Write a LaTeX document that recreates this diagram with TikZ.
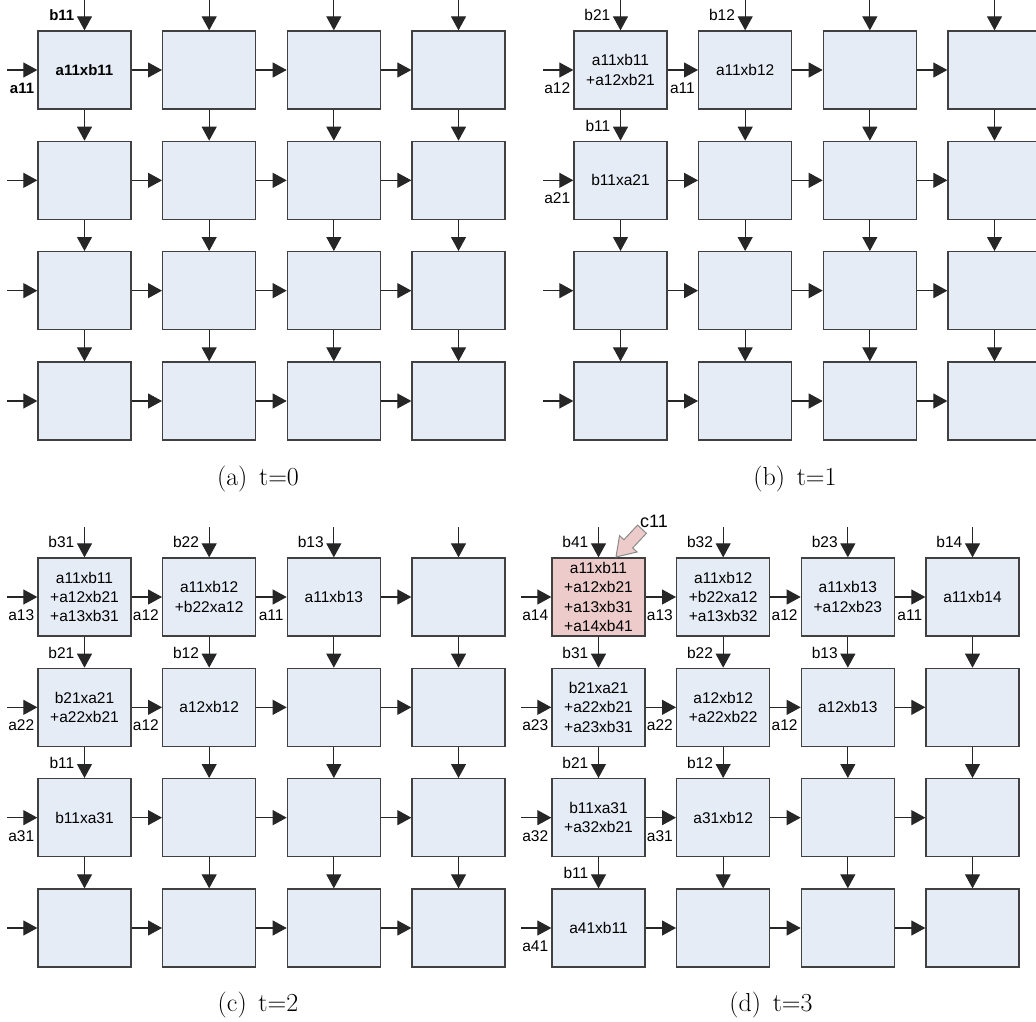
\documentclass[tikz,border=0pt]{standalone}
\usepackage{fontspec}
\newfontfamily\arialf{Liberation Sans}
\usetikzlibrary{arrows.meta}

\definecolor{cellfill}{HTML}{E5ECF6}
\definecolor{pinkfill}{HTML}{EDCBCB}
\definecolor{edgecol}{HTML}{404040}
\definecolor{callout}{HTML}{8A8A8A}

\newcommand\celltext[2]{\expandafter\def\csname txt-#1\endcsname{#2}}
\newcommand\toplabel[3][lab]{\node[#1,anchor=east] (#2-bl) at ([xshift=-10pt,yshift=15pt]#2.north) {#3};}
\newcommand\leftlabel[3][lab]{\node[#1,anchor=east] (#2-al) at ([xshift=-3pt,yshift=-18pt]#2.west) {#3};}

% cell contents
\celltext{a-1-1}{a11xb11}
\celltext{b-1-1}{a11xb11\\+a12xb21}
\celltext{b-1-2}{a11xb12}
\celltext{b-2-1}{b11xa21}
\celltext{c-1-1}{a11xb11\\+a12xb21\\+a13xb31}
\celltext{c-1-2}{a11xb12\\+b22xa12}
\celltext{c-1-3}{a11xb13}
\celltext{c-2-1}{b21xa21\\+a22xb21}
\celltext{c-2-2}{a12xb12}
\celltext{c-3-1}{b11xa31}
\celltext{d-1-1}{a11xb11\\+a12xb21\\+a13xb31\\+a14xb41}
\celltext{d-1-2}{a11xb12\\+b22xa12\\+a13xb32}
\celltext{d-1-3}{a11xb13\\+a12xb23}
\celltext{d-1-4}{a11xb14}
\celltext{d-2-1}{b21xa21\\+a22xb21\\+a23xb31}
\celltext{d-2-2}{a12xb12\\+a22xb22}
\celltext{d-2-3}{a12xb13}
\celltext{d-3-1}{b11xa31\\+a32xb21}
\celltext{d-3-2}{a31xb12}
\celltext{d-4-1}{a41xb11}

\tikzset{
  cell/.style={draw=edgecol, line width=1.3pt, fill=cellfill,
    minimum width=93pt, minimum height=78pt, inner sep=0pt, align=center,
    font=\arialf\fontsize{15.5}{19.3}\selectfont},
  flow/.style={draw=black!85, line width=1.1pt, -{Triangle[length=14pt,width=15pt]}},
  lab/.style={inner sep=0pt, font=\arialf\fontsize{15.5}{17}\selectfont},
  boldlab/.style={inner sep=0pt, font=\arialf\bfseries\fontsize{15}{17}\selectfont},
  captionlab/.style={inner sep=0pt, anchor=base, font=\fontsize{26}{30}\selectfont},
  cs-d-1-1/.style={fill=pinkfill},
  cs-a-1-1/.style={font=\arialf\bfseries\fontsize{15}{19.3}\selectfont},
}

\begin{document}
\begin{tikzpicture}[x=1pt,y=-1pt]
\path[use as bounding box] (0,0) rectangle (1036,1021);
\clip (0,0) rectangle (1036,1021);

% boxes
\foreach \p/\ox/\oy in {a/0/0, b/536/0, c/0/527, d/514/527}{
  \foreach \r in {1,...,4}{
    \foreach \c in {1,...,4}{
      \node[cell, cs-\p-\r-\c/.try] (\p-\r-\c) at ({\ox+84.5+(\c-1)*124.67},{\oy+70+(\r-1)*110.33}) {\csname txt-\p-\r-\c\endcsname};
    }
  }
}

% connectors
\foreach \p in {a,b,c,d}{
  \foreach \r in {1,...,4}{
    \foreach \c [count=\n from 2] in {1,2,3}{
      \draw[flow] (\p-\r-\c.east) -- (\p-\r-\n.west);
    }
  }
  \foreach \r [count=\n from 2] in {1,2,3}{
    \foreach \c in {1,...,4}{
      \draw[flow] (\p-\r-\c.south) -- (\p-\n-\c.north);
    }
  }
  \foreach \c in {1,...,4}{
    \coordinate (\p-top-\c) at ([yshift=30pt]\p-1-\c.north);
    \draw[flow] (\p-top-\c) -- (\p-1-\c.north);
  }
  \foreach \r in {1,...,4}{
    \coordinate (\p-left-\r) at ([xshift=-30pt]\p-\r-1.west);
    \draw[flow] (\p-left-\r) -- (\p-\r-1.west);
  }
}

% labels panel a
\toplabel[boldlab]{a-1-1}{b11}
\leftlabel[boldlab]{a-1-1}{a11}

% labels panel b
\toplabel{b-1-1}{b21}  \leftlabel{b-1-1}{a12}
\toplabel{b-1-2}{b12}  \leftlabel{b-1-2}{a11}
\toplabel{b-2-1}{b11}  \leftlabel{b-2-1}{a21}

% labels panel c
\toplabel{c-1-1}{b31}  \leftlabel{c-1-1}{a13}
\toplabel{c-1-2}{b22}  \leftlabel{c-1-2}{a12}
\toplabel{c-1-3}{b13}  \leftlabel{c-1-3}{a11}
\toplabel{c-2-1}{b21}  \leftlabel{c-2-1}{a22}
\toplabel{c-2-2}{b12}  \leftlabel{c-2-2}{a12}
\toplabel{c-3-1}{b11}  \leftlabel{c-3-1}{a31}

% labels panel d
\toplabel{d-1-1}{b41}  \leftlabel{d-1-1}{a14}
\toplabel{d-1-2}{b32}  \leftlabel{d-1-2}{a13}
\toplabel{d-1-3}{b23}  \leftlabel{d-1-3}{a12}
\toplabel{d-1-4}{b14}  \leftlabel{d-1-4}{a11}
\toplabel{d-2-1}{b31}  \leftlabel{d-2-1}{a23}
\toplabel{d-2-2}{b22}  \leftlabel{d-2-2}{a22}
\toplabel{d-2-3}{b13}  \leftlabel{d-2-3}{a12}
\toplabel{d-3-1}{b21}  \leftlabel{d-3-1}{a32}
\toplabel{d-3-2}{b12}  \leftlabel{d-3-2}{a31}
\toplabel{d-4-1}{b11}  \leftlabel{d-4-1}{a41}

% callout c11
\filldraw[fill=pinkfill, draw=callout, line width=1pt, line join=miter]
  (616,557) -- (637.1,552.0) -- (632.7,547.9) -- (646.4,533.3)
  -- (637.6,525.1) -- (623.9,539.7) -- (619.5,535.6) -- cycle;
\node[inner sep=0pt, font=\arialf\fontsize{18}{20}\selectfont] (c11lab) at (654,521) {c11};

% captions
\node[captionlab] (cap-a) at (258,485) {(a)\hspace{0.45em}t=0};
\node[captionlab] (cap-b) at (795,485) {(b)\hspace{0.45em}t=1};
\node[captionlab] (cap-c) at (258,1011) {(c)\hspace{0.45em}t=2};
\node[captionlab] (cap-d) at (771,1011) {(d)\hspace{0.45em}t=3};
\end{tikzpicture}
\end{document}
